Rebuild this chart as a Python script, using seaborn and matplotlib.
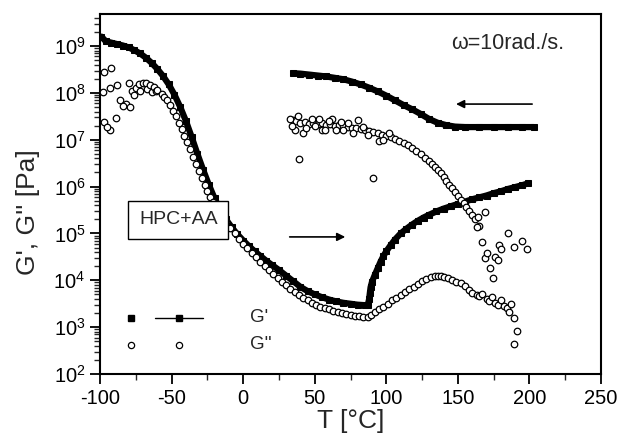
import numpy as np
import matplotlib
matplotlib.use("Agg")
import matplotlib.pyplot as plt
from matplotlib.ticker import MultipleLocator, LogLocator
import seaborn as sns

sns.set_style("ticks")
plt.rcParams["font.family"] = ["Liberation Sans", "DejaVu Sans"]
plt.rcParams["mathtext.fontset"] = "custom"
plt.rcParams["mathtext.rm"] = "Liberation Sans"
plt.rcParams["axes.unicode_minus"] = False

# values, G in log10(Pa)
# heating run, G' (filled squares)
heat_T_g1 = [-99, -96, -92, -88, -84, -80, -76, -72, -68, -64, -60, -56, -52, -48, -44, -40,
             -36, -32, -28, -24, -20, -16, -12, -8, -4, 0, 4, 8, 12, 16, 20, 25, 30, 35, 40,
             45, 50, 55, 60, 65, 70, 75, 80, 85, 87,
             88, 88.5, 89, 90, 92, 94, 96, 98, 100, 103, 106, 110, 114, 118, 122, 126, 130,
             135, 140, 145, 150, 155, 160, 165, 170, 175, 180, 185, 190, 195, 199]
heat_g1 = [9.2, 9.1, 9.07, 9.04, 9.01, 8.97, 8.91, 8.84, 8.75, 8.64, 8.51, 8.36, 8.18, 7.96, 7.7, 7.4,
           7.06, 6.7, 6.36, 6.04, 5.75, 5.5, 5.3, 5.13, 4.98, 4.85, 4.73, 4.62, 4.52, 4.42, 4.33, 4.22,
           4.1, 3.98, 3.86, 3.77, 3.7, 3.64, 3.59, 3.55, 3.52, 3.5, 3.48, 3.47, 3.47,
           3.6, 3.73, 3.85, 3.97, 4.12, 4.26, 4.4, 4.52, 4.62, 4.75, 4.87, 5.0, 5.1, 5.19, 5.27,
           5.34, 5.4, 5.47, 5.53, 5.58, 5.63, 5.68, 5.73, 5.77, 5.81, 5.86, 5.9, 5.95, 5.99, 6.03, 6.07]

# cooling run, G'
cool_T_g1 = [203, 195, 185, 175, 165, 155, 148, 142, 136, 130, 124, 118, 112, 106, 100, 94,
             88, 82, 76, 70, 64, 58, 52, 46, 40, 35]
cool_g1 = [7.27, 7.27, 7.27, 7.27, 7.27, 7.27, 7.28, 7.31, 7.36, 7.44, 7.55, 7.65, 7.74, 7.84,
           7.94, 8.03, 8.11, 8.18, 8.24, 8.29, 8.32, 8.35, 8.37, 8.39, 8.41, 8.42]

# heating run, G'' (open circles)
heat_T_g2 = [-97, -92, -98, -93, -88, -80, -86, -82, -79, -84, -97, -93, -89, -95,
             -78, -76, -75, -73, -72, -70, -68, -67, -65, -64, -62, -61, -60, -57, -55,
             -53, -51, -49, -47, -45, -43, -41, -39, -37, -35, -33, -31, -29, -27, -25, -23,
             -21, -19, -17, -15, -12, -9, -6, -3, 0, 3, 6, 9, 12, 15, 18, 21, 24, 27, 30, 33,
             36, 39, 42, 45, 48, 51, 54, 57, 60, 63, 66, 69, 72, 75, 78, 81, 84, 87,
             89, 92, 95, 98, 101, 104, 107, 110, 113, 116, 119, 122, 125, 128, 131, 134, 136,
             138, 140, 143, 146, 149, 152, 155, 158, 160, 163, 165, 167, 170, 172, 174, 176,
             178, 180, 182, 184, 186, 187, 189, 191, 189]
heat_g2 = [8.44, 8.52, 8.01, 8.1, 8.16, 8.22, 7.84, 7.76, 7.7, 7.72, 7.37, 7.2, 7.46, 7.28,
           8.05, 7.95, 8.1, 8.18, 8.05, 8.2, 8.2, 8.08, 8.17, 8.02, 8.12, 8.05, 8.07, 7.97, 7.92,
           7.85, 7.75, 7.62, 7.5, 7.36, 7.22, 7.08, 6.95, 6.8, 6.64, 6.48, 6.33, 6.18, 6.04, 5.9,
           5.78, 5.68, 5.57, 5.47, 5.38, 5.25, 5.12, 5.0, 4.88, 4.78, 4.68, 4.58, 4.49, 4.4, 4.31,
           4.22, 4.13, 4.05, 3.97, 3.89, 3.82, 3.75, 3.68, 3.62, 3.57, 3.52, 3.48, 3.44, 3.41,
           3.38, 3.35, 3.32, 3.3, 3.28, 3.26, 3.24, 3.23, 3.22, 3.22,
           3.26, 3.32, 3.38, 3.44, 3.5, 3.57, 3.63, 3.69, 3.75, 3.81, 3.86, 3.92, 3.98, 4.03,
           4.07, 4.1, 4.1, 4.09, 4.07, 4.05, 4.0, 3.97, 3.95, 3.88, 3.8, 3.73, 3.68, 3.66, 3.7,
           3.6, 3.55, 3.65, 3.52, 3.48, 3.57, 3.45, 3.4, 3.32, 3.5, 3.19, 2.92, 2.64]

# cooling run, G''
cool_T_g2 = [35, 37, 40, 43, 46, 49, 52, 55, 58, 61, 64, 67, 70, 73, 76, 79, 82, 85, 88, 91,
             94, 97, 100, 103, 106, 109, 112, 115, 118, 121, 124, 127, 130, 132, 134, 136, 138,
             140, 142, 144, 146, 148, 150, 152, 154, 156, 158, 160, 162, 165,
             36, 38, 42, 48, 55, 62, 70, 80, 95, 39, 91,
             33, 34, 44, 50, 53, 57, 60, 65, 68, 73, 77, 84, 87, 98, 102,
             163.5, 164, 167, 169, 169, 170.5, 172.6, 174.7, 176, 178, 179, 180, 185, 189, 195, 198]
cool_g2 = [7.42, 7.4, 7.36, 7.38, 7.34, 7.36, 7.33, 7.35, 7.32, 7.33, 7.3, 7.31, 7.3, 7.28, 7.26,
           7.24, 7.22, 7.2, 7.18, 7.16, 7.14, 7.11, 7.08, 7.05, 7.01, 6.98, 6.93, 6.88, 6.82, 6.75,
           6.69, 6.62, 6.54, 6.48, 6.42, 6.35, 6.28, 6.2, 6.12, 6.04, 5.96, 5.88, 5.8, 5.72, 5.65,
           5.57, 5.48, 5.4, 5.3, 5.15,
           7.2, 7.5, 7.15, 7.45, 7.2, 7.45, 7.2, 7.42, 6.98, 6.58, 6.18,
           7.45, 7.3, 7.25, 7.3, 7.45, 7.2, 7.4, 7.2, 7.38, 7.35, 7.15, 7.28, 7.1, 7.0, 7.15,
           5.13, 5.35, 4.81, 5.45, 4.47, 4.58, 4.26, 4.05, 4.49, 4.43, 4.75, 4.66, 5.0, 4.71, 4.83, 4.66]

fig = plt.figure(figsize=(6.19, 4.48), dpi=100)
ax = fig.add_axes([0.1616, 0.165, 0.8094, 0.8036])

# G' as thick runs of squares
sns.lineplot(x=heat_T_g1, y=np.power(10.0, heat_g1), sort=False, ax=ax, color="black",
             lw=4.5, marker="s", markersize=5, markeredgecolor="black")
sns.lineplot(x=cool_T_g1, y=np.power(10.0, cool_g1), sort=False, ax=ax, color="black",
             lw=4.5, marker="s", markersize=5, markeredgecolor="black")

# G'' as open circles
sns.scatterplot(x=heat_T_g2, y=np.power(10.0, heat_g2), ax=ax, marker="o", s=22,
                facecolor="white", edgecolor="black", linewidth=0.9, zorder=3)
sns.scatterplot(x=cool_T_g2, y=np.power(10.0, cool_g2), ax=ax, marker="o", s=22,
                facecolor="white", edgecolor="black", linewidth=0.9, zorder=3)

ax.set_yscale("log")
ax.set_xlim(-100, 250)
ax.set_ylim(1e2, 4.8e9)
ax.xaxis.set_major_locator(MultipleLocator(50))
ax.xaxis.set_minor_locator(MultipleLocator(25))
ax.yaxis.set_major_locator(LogLocator(base=10, numticks=12))
ax.yaxis.set_minor_locator(LogLocator(base=10, subs=np.arange(2, 10), numticks=12))

ax.tick_params(axis="both", which="major", direction="out", length=7, width=1.3,
               labelsize=14.5, colors="black")
ax.tick_params(axis="both", which="minor", direction="out", length=4, width=1.0)
for sp in ax.spines.values():
    sp.set_visible(True)
    sp.set_linewidth(1.5)
    sp.set_color("black")

ax.set_xlabel("T [°C]", fontsize=19, labelpad=1)
ax.set_ylabel("G', G'' [Pa]", fontsize=19, labelpad=2)
ax.yaxis.set_label_coords(-0.12, 0.45)

# annotations
ax.text(0.70, 0.919, "ω=10rad./s.", transform=ax.transAxes, fontsize=15.5, va="center")
ax.text(0.156, 0.428, "HPC+AA", transform=ax.transAxes, fontsize=14, ha="center", va="center",
        bbox=dict(boxstyle="square,pad=0.55", facecolor="white", edgecolor="black", lw=1.0))
ax.annotate("", xy=(0.495, 0.381), xytext=(0.373, 0.381), xycoords="axes fraction",
            arrowprops=dict(arrowstyle="-|>", color="black", lw=1.2, mutation_scale=12))
ax.annotate("", xy=(0.705, 0.75), xytext=(0.868, 0.75), xycoords="axes fraction",
            arrowprops=dict(arrowstyle="-|>", color="black", lw=1.2, mutation_scale=12))

# hand-made legend
ax.plot([0.062], [0.156], transform=ax.transAxes, marker="s", ms=4.5, color="black", ls="none")
ax.plot([0.11, 0.205], [0.156, 0.156], transform=ax.transAxes, color="black", lw=1.0)
ax.plot([0.158], [0.156], transform=ax.transAxes, marker="s", ms=4.5, color="black")
ax.plot([0.062, 0.158], [0.081, 0.081], transform=ax.transAxes, marker="o", ms=4.5,
        mfc="white", mec="black", mew=0.9, ls="none")
ax.text(0.299, 0.156, "G'", transform=ax.transAxes, fontsize=13.5, va="center")
ax.text(0.299, 0.081, "G''", transform=ax.transAxes, fontsize=13.5, va="center")

fig.savefig("out.png", dpi=100)
